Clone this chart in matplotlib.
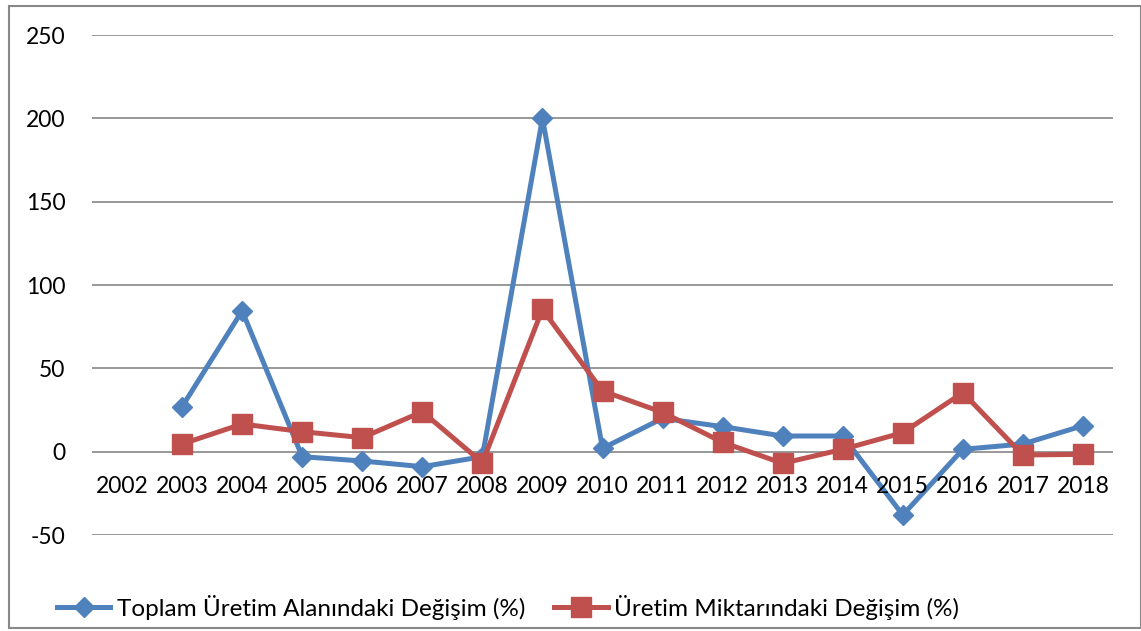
import matplotlib
matplotlib.use("Agg")
import matplotlib.pyplot as plt
from matplotlib.patches import Rectangle

years = ["2002", "2003", "2004", "2005", "2006", "2007", "2008", "2009", "2010",
         "2011", "2012", "2013", "2014", "2015", "2016", "2017", "2018"]
toplam = [None, 27, 84.5, -3, -5.6, -9, -3, 200, 2, 20, 15, 9.4, 9.4, -38, 1.4, 4.6, 15.6]
miktar = [None, 4.6, 16.6, 12, 8.4, 24, -6.6, 85.4, 36.4, 23.6, 5.6, -7, 1.4, 11.4, 35.4, -2, -1.6]
yticks = [-50, 0, 50, 100, 150, 200, 250]
labels = ["Toplam Üretim Alanındaki Değişim (%)", "Üretim Miktarındaki Değişim (%)"]

plt.rcParams['font.family'] = ['Lato', 'DejaVu Sans']
FS = 16.5
LFS = 17.5

W, H = 1141, 631
fig = plt.figure(figsize=(W / 100, H / 100), dpi=100)
ax = fig.add_axes([92 / W, 1 - 535 / H, (1113 - 92) / W, (535 - 35) / H])

x = list(range(len(years)))
xs_t = [i for i, v in zip(x, toplam) if v is not None]
ys_t = [v for v in toplam if v is not None]
xs_m = [i for i, v in zip(x, miktar) if v is not None]
ys_m = [v for v in miktar if v is not None]

blue = "#4F81BD"
red = "#C0504D"
l1, = ax.plot(xs_t, ys_t, color=blue, lw=3.6, marker="D", ms=10.5, zorder=3)
l2, = ax.plot(xs_m, ys_m, color=red, lw=3.6, marker="s", ms=14, zorder=4)

ax.set_xlim(-0.5, len(years) - 0.5)
ax.set_ylim(-50, 250)
ax.set_yticks(yticks)
ax.set_yticklabels([str(t) for t in yticks], fontsize=FS)
ax.tick_params(axis="y", length=0, pad=19)
ax.set_xticks([])
ax.grid(axis="y", color="#868686", lw=1.2)
ax.set_axisbelow(True)
for s in ax.spines.values():
    s.set_visible(False)

for i, lab in zip(x, years):
    ax.annotate(lab, xy=(i, 0), xytext=(0, -35), textcoords="offset pixels",
                ha="center", va="center", fontsize=FS)

fig.legend([l1, l2], labels, loc="center left",
           bbox_to_anchor=(57 / W, 1 - 607 / H), ncol=2, frameon=False,
           fontsize=LFS, handlelength=2.2, handletextpad=0.25, columnspacing=1.2,
           borderpad=0, borderaxespad=0)

fig.patches.append(Rectangle((8.5 / W, 1 - 628 / H), (W - 8.5) / W, (628 - 5.5) / H,
                             transform=fig.transFigure, fill=False,
                             edgecolor="#888888", lw=1.5))

fig.savefig("out.png", dpi=100)
